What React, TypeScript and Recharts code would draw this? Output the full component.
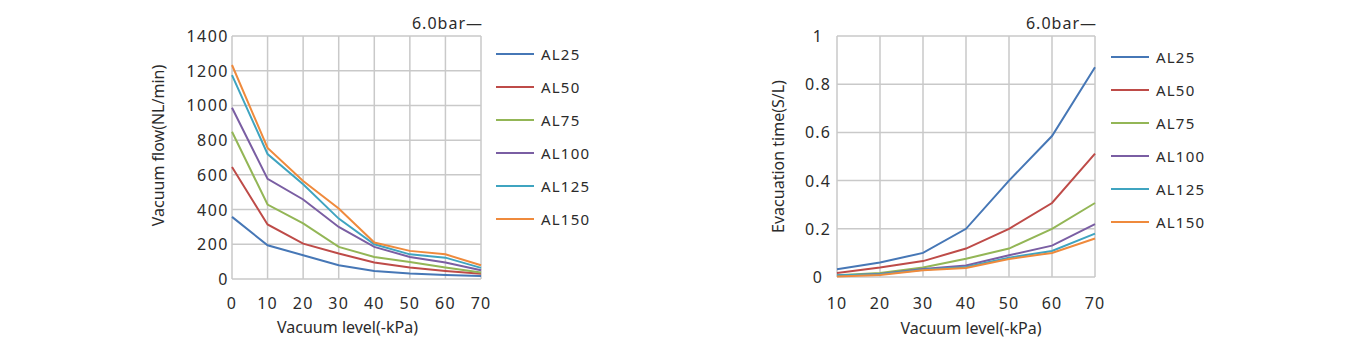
import { LineChart, Line, XAxis, YAxis, CartesianGrid, Label } from 'recharts'

const seriesNames = ['AL25', 'AL50', 'AL75', 'AL100', 'AL125', 'AL150']
const seriesColors = ['#4677b6', '#be4b48', '#93b656', '#7a5ea3', '#3fa4c0', '#ef8a3c']

// vacuum flow (NL/min) vs vacuum level
const flowLevels = [0, 10, 20, 30, 40, 50, 60, 70]
const flowAL25 = [358, 194, 137, 79, 46, 31, 23, 17]
const flowAL50 = [645, 314, 204, 147, 95, 66, 46, 30]
const flowAL75 = [848, 429, 320, 185, 127, 98, 66, 37]
const flowAL100 = [987, 577, 458, 300, 185, 127, 95, 50]
const flowAL125 = [1175, 720, 546, 348, 200, 142, 123, 64]
const flowAL150 = [1233, 755, 565, 406, 210, 162, 142, 79]
const flowTicks = [0, 200, 400, 600, 800, 1000, 1200, 1400]

// evacuation time (S/L) vs vacuum level
const timeLevels = [10, 20, 30, 40, 50, 60, 70]
const timeAL25 = [0.032, 0.06, 0.1, 0.2, 0.4, 0.585, 0.87]
const timeAL50 = [0.017, 0.039, 0.066, 0.118, 0.2, 0.307, 0.512]
const timeAL75 = [0.007, 0.017, 0.039, 0.076, 0.118, 0.2, 0.307]
const timeAL100 = [0.005, 0.012, 0.033, 0.048, 0.09, 0.13, 0.219]
const timeAL125 = [0.007, 0.011, 0.03, 0.042, 0.08, 0.108, 0.18]
const timeAL150 = [0.002, 0.008, 0.028, 0.037, 0.075, 0.1, 0.16]
const timeTicks = [0, 0.2, 0.4, 0.6, 0.8, 1]

const pressureNote = '6.0bar—'

const flowSeries = [flowAL25, flowAL50, flowAL75, flowAL100, flowAL125, flowAL150]
const timeSeries = [timeAL25, timeAL50, timeAL75, timeAL100, timeAL125, timeAL150]

const buildRows = (levels: number[], series: number[][]) =>
  levels.map((level, i) => {
    const row: Record<string, number> = { level }
    seriesNames.forEach((name, s) => { row[name] = series[s][i] })
    return row
  })

const flowData = buildRows(flowLevels, flowSeries)
const timeData = buildRows(timeLevels, timeSeries)

const FONT = '"Noto Sans", "DejaVu Sans", sans-serif'
const TEXT = '#2b2b2b'
const GRID = '#c9c9c9'

const xTick = (p: any) => (
  <text x={p.x} y={p.y} textAnchor="middle" dominantBaseline="central"
    fontSize={16} fill={TEXT} letterSpacing={1.2} fontFamily={FONT}>
    {p.payload.value}
  </text>
)

const yTickEnd = (p: any) => (
  <text x={p.x} y={p.y} textAnchor="end" dominantBaseline="central"
    fontSize={16} fill={TEXT} letterSpacing={1.5} fontFamily={FONT}>
    {p.payload.value}
  </text>
)

const yTickMid = (p: any) => (
  <text x={p.x} y={p.y} textAnchor="middle" dominantBaseline="central"
    fontSize={16} fill={TEXT} letterSpacing={1.2} fontFamily={FONT}>
    {p.payload.value}
  </text>
)

const axisTitle = (text: string, dx: number, dy: number, vertical: boolean) => (props: any) => {
  const vb = props.viewBox
  const cx = vertical ? vb.x + dx : vb.x + vb.width / 2 + dx
  const cy = vertical ? vb.y + vb.height / 2 + dy : vb.y + dy
  return (
    <text x={cx} y={cy} textAnchor="middle" dominantBaseline="central"
      transform={vertical ? `rotate(-90 ${cx} ${cy})` : undefined}
      fontSize={16} fill={TEXT} fontFamily={FONT}>
      {text}
    </text>
  )
}

function SeriesLegend({ left, top }: { left: number; top: number }) {
  return (
    <div style={{ position: 'absolute', left, top, fontFamily: FONT }}>
      {seriesNames.map((name, i) => (
        <div key={name} style={{ height: 33, display: 'flex', alignItems: 'center' }}>
          <svg width={38} height={4} style={{ display: 'block' }}>
            <line x1={0} x2={38} y1={2} y2={2} stroke={seriesColors[i]} strokeWidth={2} />
          </svg>
          <span style={{ marginLeft: 7, fontSize: 15, letterSpacing: 1.2, color: TEXT }}>{name}</span>
        </div>
      ))}
    </div>
  )
}

function Note({ right, top }: { right: number; top: number }) {
  return (
    <div style={{
      position: 'absolute', left: right - 120, width: 120, top, textAlign: 'right',
      fontFamily: FONT, fontSize: 16, letterSpacing: 1, color: TEXT, lineHeight: '22px',
    }}>
      {pressureNote}
    </div>
  )
}

export default function App() {
  return (
    <div style={{ position: 'absolute', left: 0, top: 0, width: 1353, height: 356, background: '#fff', fontFamily: FONT }}>
      <div style={{ position: 'absolute', left: 0, top: 0 }}>
        <LineChart width={600} height={356} data={flowData}
          margin={{ top: 36, right: 119, bottom: 27, left: 172 }}>
          <CartesianGrid stroke={GRID} strokeWidth={1.5} />
          <XAxis dataKey="level" type="number" domain={[0, 70]} ticks={flowLevels}
            axisLine={false} tickLine={false} tickSize={0} tickMargin={24} height={50} tick={xTick}>
            <Label content={axisTitle('Vacuum level(-kPa)', -9, 48, false)} />
          </XAxis>
          <YAxis type="number" domain={[0, 1400]} ticks={flowTicks} width={60}
            axisLine={false} tickLine={false} tickSize={0} tickMargin={3} tick={yTickEnd}>
            <Label content={axisTitle('Vacuum flow(NL/min)', -14, -12, true)} />
          </YAxis>
          {seriesNames.map((name, i) => (
            <Line key={name} dataKey={name} stroke={seriesColors[i]} strokeWidth={2}
              dot={false} isAnimationActive={false} type="linear" />
          ))}
        </LineChart>
      </div>
      <Note right={483} top={12} />
      <SeriesLegend left={496} top={37} />

      <div style={{ position: 'absolute', left: 620, top: 0 }}>
        <LineChart width={620} height={356} data={timeData}
          margin={{ top: 36, right: 145, bottom: 29, left: 157 }}>
          <CartesianGrid stroke={GRID} strokeWidth={1.5} />
          <XAxis dataKey="level" type="number" domain={[10, 70]} ticks={timeLevels}
            axisLine={false} tickLine={false} tickSize={0} tickMargin={26} height={50} tick={xTick}>
            <Label content={axisTitle('Vacuum level(-kPa)', 5, 51, false)} />
          </XAxis>
          <YAxis type="number" domain={[0, 1]} ticks={timeTicks} width={60}
            axisLine={false} tickLine={false} tickSize={0} tickMargin={19} tick={yTickMid}>
            <Label content={axisTitle('Evacuation time(S/L)', 1, 0, true)} />
          </YAxis>
          {seriesNames.map((name, i) => (
            <Line key={name} dataKey={name} stroke={seriesColors[i]} strokeWidth={2}
              dot={false} isAnimationActive={false} type="linear" />
          ))}
        </LineChart>
      </div>
      <Note right={1097} top={12} />
      <SeriesLegend left={1111} top={40} />
    </div>
  )
}
